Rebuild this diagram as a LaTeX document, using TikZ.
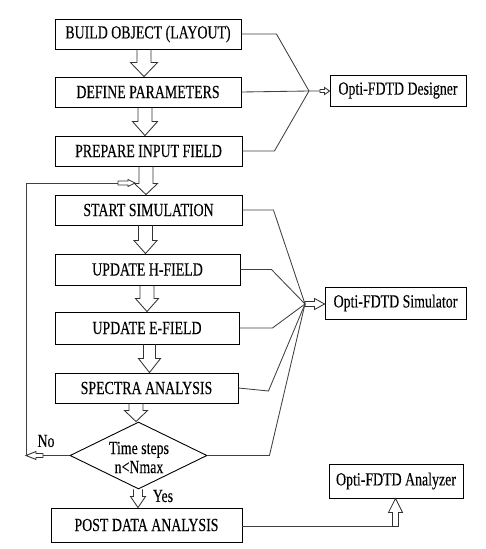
\documentclass[tikz,border=0pt]{standalone}
\usepackage{fontspec}
\setmainfont{Liberation Serif}[FakeStretch=0.75,FakeBold=0.2]
\usetikzlibrary{shapes.geometric,calc}
\newcommand\blkdown[6]{%
 \path[blk] let \p1=(#1), \p2=(#2) in
 (\x1+#3pt-#4pt,\y1) -- (\x1+#3pt-#4pt,\y2+#6pt) -- (\x1+#3pt-#5pt,\y2+#6pt) --
 (\x1+#3pt,\y2) -- (\x1+#3pt+#5pt,\y2+#6pt) -- (\x1+#3pt+#4pt,\y2+#6pt) -- (\x1+#3pt+#4pt,\y1);}
\newcommand\blkright[5]{%
 \path[blk] let \p1=(#1), \p2=(#2) in
 (\x1,\y1+#3pt) -- (\x2-#5pt,\y1+#3pt) -- (\x2-#5pt,\y1+#4pt) -- (\x2,\y1) --
 (\x2-#5pt,\y1-#4pt) -- (\x2-#5pt,\y1-#3pt) -- (\x1,\y1-#3pt) -- cycle;}
\newcommand\blkleft[5]{%
 \path[blk] let \p1=(#1), \p2=(#2) in
 (\x1,\y1+#3pt) -- (\x2+#5pt,\y1+#3pt) -- (\x2+#5pt,\y1+#4pt) -- (\x2,\y1) --
 (\x2+#5pt,\y1-#4pt) -- (\x2+#5pt,\y1-#3pt) -- (\x1,\y1-#3pt) -- cycle;}
\newcommand\blkup[5]{%
 \path[blk] let \p1=(#1), \p2=(#2) in
 (\x1-#3pt,\y1) -- (\x1-#3pt,\y2-#5pt) -- (\x1-#4pt,\y2-#5pt) -- (\x1,\y2) --
 (\x1+#4pt,\y2-#5pt) -- (\x1+#3pt,\y2-#5pt) -- (\x1+#3pt,\y1) -- cycle;}
\begin{document}
\begin{tikzpicture}[x=1pt,y=-1pt,
 txt/.style={font=\fontsize{18.5}{19}\selectfont},
 box/.style={draw=black, line width=0.9pt, inner sep=0pt, txt},
 lbl/.style={inner sep=0pt, txt},
 conn/.style={draw=black!75, line width=0.85pt},
 blk/.style={draw=black!80, line width=0.85pt, line join=miter}]
\useasboundingbox (0,0) rectangle (485,549);

% main column
\node[box, minimum width=186pt, minimum height=30pt] (build) at (148,34) {BUILD OBJECT (LAYOUT)};
\node[box, minimum width=186pt, minimum height=30pt] (define) at (148,92) {DEFINE PARAMETERS};
\node[box, minimum width=187pt, minimum height=30pt] (prep) at (148.5,151) {PREPARE INPUT FIELD};
\node[box, minimum width=187pt, minimum height=30pt] (start) at (148.5,210) {START SIMULATION};
\node[box, minimum width=185pt, minimum height=31pt] (hf) at (147.5,269.5) {UPDATE H-FIELD};
\node[box, minimum width=184pt, minimum height=32pt] (ef) at (147,328) {UPDATE E-FIELD};
\node[box, minimum width=183pt, minimum height=30pt] (spec) at (146.5,388) {SPECTRA ANALYSIS};
\node[diamond, draw=black, line width=0.9pt, minimum width=137pt, minimum height=67pt, inner sep=0pt] (dec) at (138.5,455.5) {};
\node[lbl, align=center] (dectxt) at (139,457.5) {Time steps\\n<Nmax};
\node[box, minimum width=191pt, minimum height=34pt] (post) at (146.5,525) {POST DATA ANALYSIS};

% tools
\node[box, minimum width=136pt, minimum height=31pt] (des) at (398,90.5) {Opti-FDTD Designer};
\node[box, minimum width=141pt, minimum height=32pt] (sim) at (395.5,303) {Opti-FDTD Simulator};
\node[box, minimum width=134pt, minimum height=34pt] (ana) at (396,481) {Opti-FDTD Analyzer};

% block arrows down the column
\blkdown{build.south}{define.north}{-4}{7}{13.5}{14}
\blkdown{define.south}{prep.north}{-3}{7}{12.5}{14}
\blkdown{prep.south}{start.north}{-2.5}{7}{11.5}{11}
\blkdown{start.south}{hf.north}{-3}{7}{11.5}{13}
\blkdown{hf.south}{ef.north}{-0.5}{7}{11.5}{13}
\blkdown{ef.south}{spec.north}{2.5}{6}{11}{14}
\blkdown{spec.south}{dec.north}{-10.5}{7}{11.5}{11}
\blkdown{dec.south}{post.north}{-0.5}{4.5}{7.5}{11}

% Designer connectors
\coordinate (j1) at (309,91);
\coordinate (a1) at (320,91);
\draw[conn] (build.east) -- ++(35,0) -- (j1);
\draw[conn] (define.east) -- (j1) -- (a1);
\draw[conn] (prep.east) -- ++(32,0) -- (j1);
\blkright{a1}{des.west}{1.5}{3.5}{5}

% Simulator connectors
\coordinate (j2) at (305,304);
\draw[conn] (start.east) -- ++(31,0) -- (j2);
\draw[conn] (hf.east) -- ++(31,0) -- (j2);
\draw[conn] (ef.east) -- ++(33,0) -- (j2);
\draw[conn] (spec.east) -- ++(30,3) -- (j2);
\draw[conn] (dec.east) -- ++(62,0) -- (j2);
\blkright{j2}{sim.west}{2.5}{5.5}{10}

% feedback loop (No)
\coordinate (nb) at (43,455.5);
\coordinate (fb1) at (26,455.5);
\coordinate (fb2) at (26,183);
\coordinate (fb3) at (118,183);
\coordinate (fb4) at (135,183);
\draw[conn] (dec.west) -- (nb);
\blkleft{nb}{fb1}{2}{4}{10}
\draw[conn] (fb1) -- (fb2) -- (fb3);
\blkright{fb3}{fb4}{2}{3.5}{7}
\node[lbl] (no) at (46,441) {No};
\node[lbl] (yes) at (163,496) {Yes};

% Analyzer
\coordinate (an0) at (395.5,526.5);
\draw[conn] (post.east |- an0) -- ($(an0)+(-3,0)$);
\blkup{an0}{ana.south}{3}{7}{14}
\end{tikzpicture}
\end{document}
